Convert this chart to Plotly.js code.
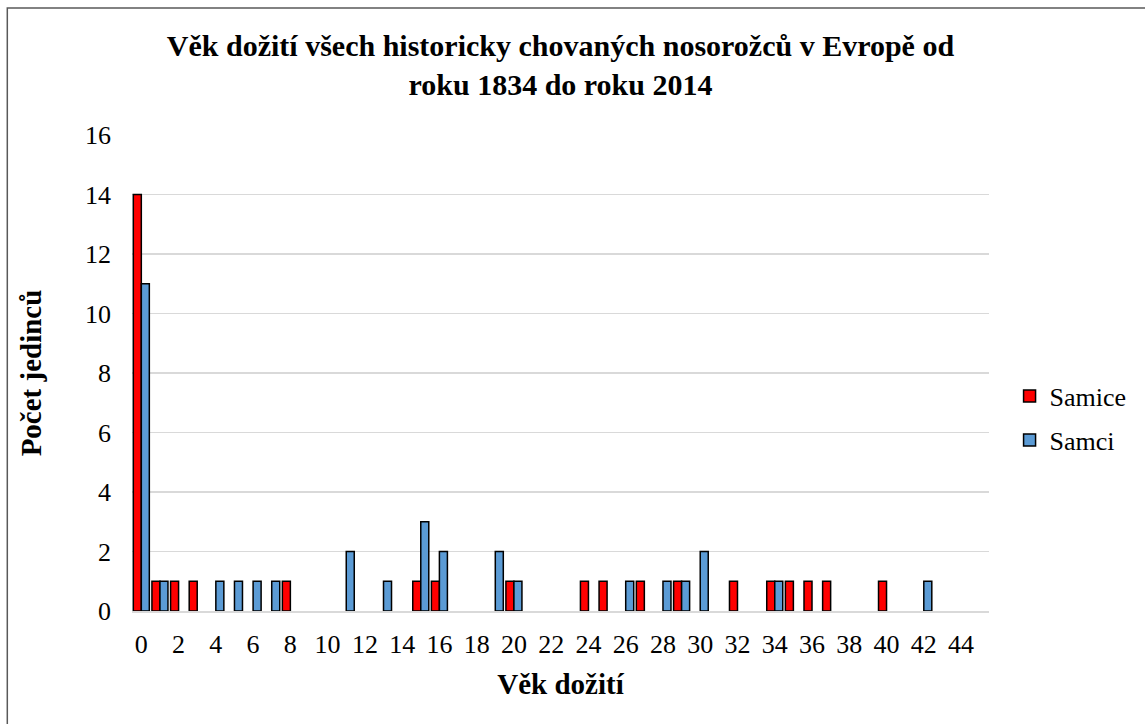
<!DOCTYPE html>
<html>
<head>
<meta charset="utf-8">
<script src="https://cdn.plot.ly/plotly-3.0.1.min.js"></script>
<style>
html, body { margin:0; padding:0; background:#fff; overflow:hidden; }
#chart { width:1145px; height:724px; }
</style>
</head>
<body>
<div id="chart"></div>
<script>
// Age at death (years)
const ages = [0,1,2,3,4,5,6,7,8,9,10,11,12,13,14,15,16,17,18,19,20,21,22,23,24,25,26,27,28,29,30,31,32,33,34,35,36,37,38,39,40,41,42,43,44,45];
// Females
const samice = [14,1,1,1,0,0,0,0,1,0, 0,0,0,0,0,1,1,0,0,0, 1,0,0,0,1,1,0,1,0,1, 0,0,1,0,1,1,1,1,0,0, 1,0,0,0,0,0];
// Males
const samci  = [11,1,0,0,1,1,1,1,0,0, 0,2,0,1,0,3,2,0,0,2, 1,0,0,0,0,0,1,0,1,1, 2,0,0,0,1,0,0,0,0,0, 0,0,1,0,0,0];
const xTickVals = [0,2,4,6,8,10,12,14,16,18,20,22,24,26,28,30,32,34,36,38,40,42,44];
const yTickVals = [0,2,4,6,8,10,12,14,16];

const FONT = '"Liberation Serif", "Times New Roman", serif';
const nz = a => a.map(v => v === 0 ? null : v);

const traces = [
  { type:'bar', name:'Samice', x:ages, y:nz(samice), legendgroup:'a',
    marker:{ color:'#ff0000', line:{ color:'#000', width:1.5 } } },
  { type:'bar', name:'Samci', x:ages, y:nz(samci), legendgroup:'b',
    marker:{ color:'#5b9bd5', line:{ color:'#000', width:1.5 } } }
];

const layout = {
  width:1145, height:724,
  margin:{ l:132, r:156, t:135, b:113, autoexpand:false },
  paper_bgcolor:'#fff', plot_bgcolor:'#fff',
  font:{ family:FONT, size:26, color:'#000' },
  barmode:'group', bargap:0.14, bargroupgap:0,
  title:{ text:'<b>Věk dožití všech historicky chovaných nosorožců v Evropě od<br>roku 1834 do roku 2014</b>',
    font:{ family:FONT, size:30, color:'#000' }, x:0.5, xref:'paper', xanchor:'center', y:0.923, yref:'container', yanchor:'top' },
  xaxis:{ range:[-0.5,45.5], tickmode:'array', tickvals:xTickVals, ticktext:xTickVals.map(String),
    showgrid:false, zeroline:false, showline:true, linecolor:'#d9d9d9', linewidth:1.5,
    ticks:'', ticklabelstandoff:9, tickfont:{ family:FONT, size:26, color:'#000' },
    title:{ text:'<b>Věk dožití</b>', font:{ family:FONT, size:29, color:'#000' }, standoff:16 } },
  yaxis:{ range:[0,16], tickmode:'array', tickvals:yTickVals, ticktext:yTickVals.map(String),
    showgrid:true, gridcolor:'#d9d9d9', gridwidth:1.5, zeroline:false, showline:false,
    ticks:'', ticklabelstandoff:20, tickfont:{ family:FONT, size:26, color:'#000' },
    title:{ text:'<b>Počet jedinců</b>', font:{ family:FONT, size:29, color:'#000' }, standoff:34 } },
  legend:{ x:1.024, xanchor:'left', y:0.405, yanchor:'middle', font:{ family:FONT, size:26, color:'#000' },
    traceorder:'grouped', tracegroupgap:7, bgcolor:'rgba(0,0,0,0)', itemwidth:30 },
  shapes:[
    { type:'rect', xref:'paper', yref:'paper', x0:-0.1455, x1:1.3, y0:-0.4, y1:1.2668,
      line:{ color:'#595959', width:1.5 }, fillcolor:'rgba(0,0,0,0)', layer:'below' }
  ]
};

Plotly.newPlot('chart', traces, layout, { displayModeBar:false, staticPlot:true });
</script>
</body>
</html>
